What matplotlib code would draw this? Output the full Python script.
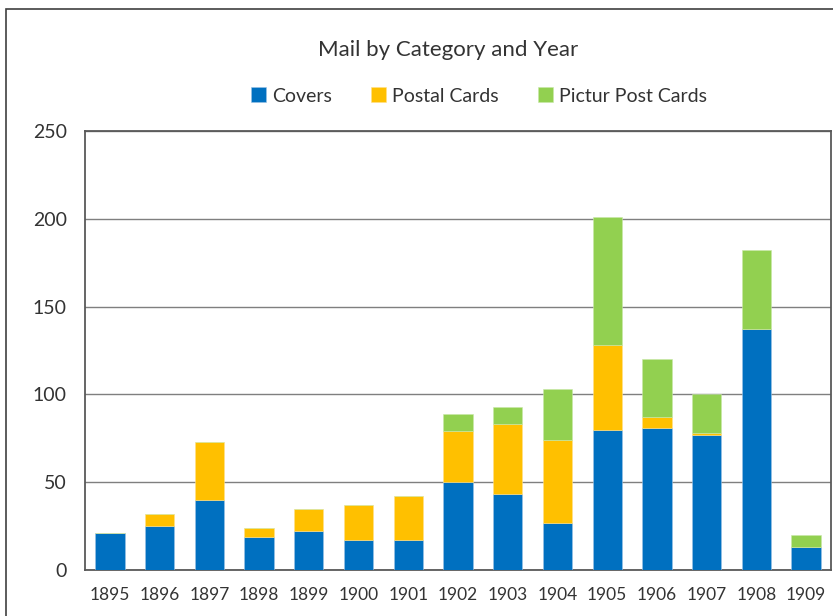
import matplotlib.pyplot as plt
import matplotlib.patches as mpatches
import numpy as np

plt.rcParams['font.family'] = ['Lato', 'DejaVu Sans']

# Data
years = ['1895', '1896', '1897', '1898', '1899', '1900', '1901', '1902',
         '1903', '1904', '1905', '1906', '1907', '1908', '1909']
covers = [21, 25, 40, 19, 22, 17, 17, 50, 43, 27, 80, 81, 77, 137, 13]
postal_cards = [0, 7, 33, 5, 13, 20, 25, 29, 40, 47, 48, 6, 1, 0, 0]
picture_cards = [0, 0, 0, 0, 0, 0, 0, 10, 10, 29, 73, 33, 22, 45, 7]

blue = '#0070C0'
yellow = '#FFC000'
green = '#92D050'
text_col = '#333333'

fig = plt.figure(figsize=(8.33, 6.16), dpi=100)
ax = fig.add_axes([85 / 833, 1 - 570 / 616, 746 / 833, 439 / 616])

x = np.arange(len(years))
w = 0.59
c = np.array(covers)
p = np.array(postal_cards)
g = np.array(picture_cards)
ax.bar(x, c, w, color=blue, label='Covers', zorder=3, edgecolor='#9dc3e6', linewidth=0.4)
ax.bar(x, p, w, bottom=c, color=yellow, label='Postal Cards', zorder=3, edgecolor='#ffe08a', linewidth=0.4)
ax.bar(x, g, w, bottom=c + p, color=green, label='Pictur Post Cards', zorder=3, edgecolor='#c8e8a8', linewidth=0.4)

ax.set_xlim(-0.5, len(years) - 0.5)
ax.set_ylim(0, 250)
ax.set_yticks([0, 50, 100, 150, 200, 250])
ax.set_xticks(x)
ax.set_xticklabels(years)
ax.yaxis.grid(True, color='#7f7f7f', linewidth=1, zorder=0)
ax.tick_params(axis='both', length=0, colors=text_col)
ax.tick_params(axis='y', labelsize=14, pad=13)
ax.tick_params(axis='x', labelsize=12.5, pad=12)
for s in ax.spines.values():
    s.set_color('#595959')
    s.set_linewidth(1.3)

fig.text(448 / 833, 1 - 50 / 616, 'Mail by Category and Year', ha='center', va='center',
         fontsize=16, color=text_col)
fig.legend(loc='center', bbox_to_anchor=(479 / 833, 1 - 96 / 616), ncol=3, frameon=False,
           fontsize=14, handlelength=0.8, handleheight=0.8, handletextpad=0.3,
           columnspacing=2.0, labelcolor=text_col)

# outer chart border
fig.patches.append(mpatches.Rectangle((6 / 833, -0.1), 1.2, 1.1 - 9 / 616, transform=fig.transFigure,
                                      fill=False, edgecolor='#404040', linewidth=1.2))

fig.savefig('out.png', dpi=100)
